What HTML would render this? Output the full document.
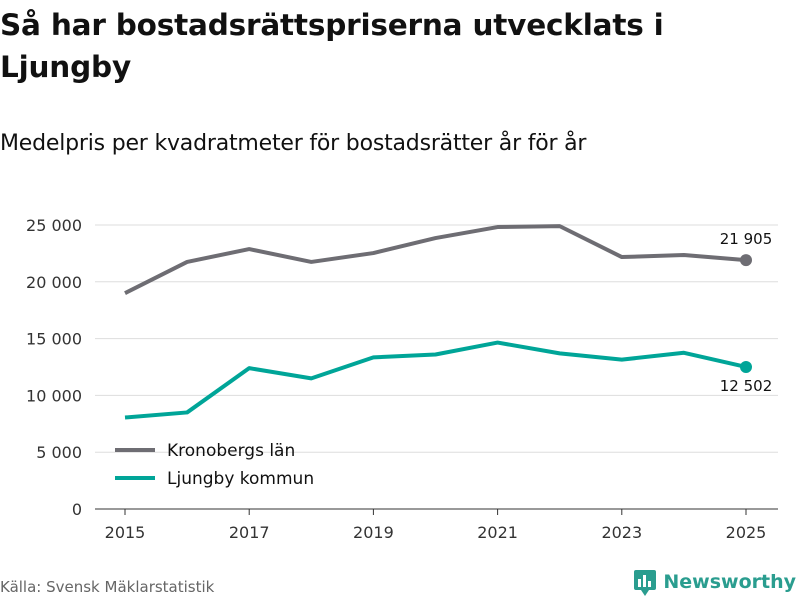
<!DOCTYPE html>
<html><head><meta charset="utf-8">
<style>
body{margin:0;width:800px;height:600px;background:#fff;font-family:"DejaVu Sans","Liberation Sans",sans-serif;color:#111;overflow:hidden;position:relative}
#title{position:absolute;left:0;top:4px;font-size:29.5px;font-weight:bold;line-height:42px;width:700px;letter-spacing:-0.2px}
#subtitle{position:absolute;left:0;top:131px;font-size:22px;letter-spacing:-0.2px}
#source{position:absolute;left:0;top:578px;font-size:15px;color:#666}
#logo{position:absolute;right:4px;top:568px;font-size:19px;font-weight:bold;color:#2a9d8f;white-space:nowrap;display:flex;align-items:center;gap:6px}
</style></head><body>
<div id="title">Så har bostadsrättspriserna utvecklats i Ljungby</div>
<div id="subtitle">Medelpris per kvadratmeter för bostadsrätter år för år</div>
<svg id="chart" width="800" height="600" style="position:absolute;left:0;top:0"></svg>
<div id="source">Källa: Svensk Mäklarstatistik</div>
<div id="logo"><svg width="24" height="28"><rect x="1" y="2" width="22" height="20" rx="2" fill="#2a9d8f"/><polygon points="8,22 16,22 12,28" fill="#2a9d8f"/><rect x="5" y="11" width="3" height="8" fill="#fff"/><rect x="10" y="7" width="3" height="12" fill="#fff"/><rect x="15" y="13" width="3" height="6" fill="#fff"/></svg><span>Newsworthy</span></div>
<script>
const years=[2015,2016,2017,2018,2019,2020,2021,2022,2023,2024,2025];
const kronoberg=[19000,21750,22880,21750,22530,23850,24820,24900,22180,22360,21905];
const ljungby=[8050,8500,12400,11500,13350,13600,14650,13700,13150,13750,12502];
const yTicks=[0,5000,10000,15000,20000,25000];
const xTicks=[2015,2017,2019,2021,2023,2025];
const NS="http://www.w3.org/2000/svg";
const svg=document.getElementById('chart');
const x=v=>125+(v-2015)*62.1;
const y=v=>509-v/25000*284;
const fmt=v=>v===0?'0':String(v).replace(/\B(?=(\d{3})+(?!\d))/g,'\u00a0');
function mk(t,a){const e=document.createElementNS(NS,t);for(const k in a)e.setAttribute(k,a[k]);svg.appendChild(e);return e;}
yTicks.forEach(t=>{
 const l=mk('line',{x1:95,x2:778,y1:y(t),y2:y(t),stroke:t===0?'#333':'#ddd','stroke-width':1});
 
 
 const tx=mk('text',{x:82,y:y(t)+6,'text-anchor':'end','font-size':16,fill:'#333'});
 tx.textContent=fmt(t);
 
 
});
xTicks.forEach(t=>{
 const l=mk('line',{x1:x(t),x2:x(t),y1:509,y2:515,stroke:'#333'});
 
 
 const tx=mk('text',{x:x(t),y:538,'text-anchor':'middle','font-size':16,fill:'#333'});
 tx.textContent=t;
 
 
});
function series(vals,color,name){
 const p=mk('polyline',{points:vals.map((v,i)=>x(years[i])+','+y(v)).join(' '),fill:'none',stroke:color,'stroke-width':4,'stroke-linejoin':'round'});
 
 
 const n=vals.length-1;
 const c=mk('circle',{cx:x(years[n]),cy:y(vals[n]),r:6,fill:color});
 
 
}
series(kronoberg,'#6e6d73','kronoberg');
series(ljungby,'#00a598','ljungby');
const n=years.length-1;
const a1=mk('text',{x:x(years[n]),y:y(kronoberg[n])-16,'text-anchor':'middle','font-size':15,fill:'#111'});
a1.textContent=fmt(kronoberg[n]);


const a2=mk('text',{x:x(years[n]),y:y(ljungby[n])+24,'text-anchor':'middle','font-size':15,fill:'#111'});
a2.textContent=fmt(ljungby[n]);


[['Kronobergs län','#6e6d73',450],['Ljungby kommun','#00a598',478]].forEach(([lab,col,yy])=>{
 const l=mk('line',{x1:115,x2:155,y1:yy,y2:yy,stroke:col,'stroke-width':4});
 
 
 const t=mk('text',{x:167,y:yy+6,'font-size':17,fill:'#111'});
 t.textContent=lab;
 
 
});
</script>
</body></html>
